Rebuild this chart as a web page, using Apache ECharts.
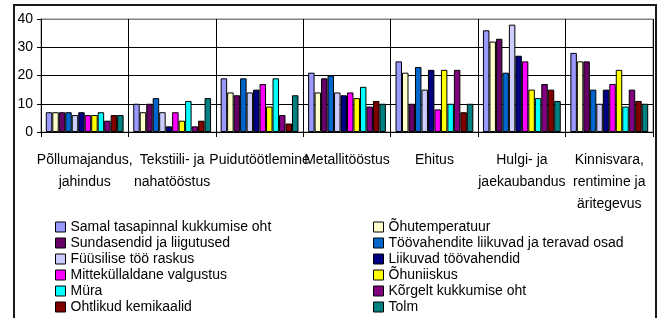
<!DOCTYPE html>
<html>
<head>
<meta charset="utf-8">
<script src="https://cdn.jsdelivr.net/npm/echarts@6/dist/echarts.min.js"></script>
<style>
html,body{margin:0;padding:0;background:#fff;}
#chart{width:661px;height:318px;}
</style>
</head>
<body>
<div id="chart"></div>
<script>
const categories = ["Põllumajandus,\njahindus", "Tekstiili- ja\nnahatööstus", "Puidutöötlemine", "Metallitööstus", "Ehitus", "Hulgi- ja\njaekaubandus", "Kinnisvara,\nrentimine ja\näritegevus"];
const yTicks = [0, 10, 20, 30, 40];

const seriesNames = [
  "Samal tasapinnal kukkumise oht",
  "Õhutemperatuur",
  "Sundasendid ja liigutused",
  "Töövahendite liikuvad ja teravad osad",
  "Füüsilise töö raskus",
  "Liikuvad töövahendid",
  "Mitteküllaldane valgustus",
  "Õhuniiskus",
  "Müra",
  "Kõrgelt kukkumise oht",
  "Ohtlikud kemikaalid",
  "Tolm"
];
const seriesColors = ["#9999FF","#FFFFCC","#660066","#0066CC","#CCCCFF","#000080","#FF00FF","#FFFF00","#00FFFF","#800080","#800000","#008080"];

const samal = [7, 10, 19, 21, 25, 36, 28];
const ohutemperatuur = [7, 7, 14, 14, 21, 32, 25];
const sundasendid = [7, 10, 13, 19, 10, 33, 25];
const toovahendite = [7, 12, 19, 20, 23, 21, 15];
const fuusilise = [6, 7, 14, 14, 15, 38, 10];
const liikuvad = [7, 2, 15, 13, 22, 27, 15];
const mittekullaldane = [6, 7, 17, 14, 8, 25, 17];
const ohuniiskus = [6, 4, 9, 12, 22, 15, 22];
const mura = [7, 11, 19, 16, 10, 12, 9];
const korgelt = [4, 2, 6, 9, 22, 17, 15];
const ohtlikud = [6, 4, 3, 11, 7, 15, 11];
const tolm = [6, 12, 13, 10, 10, 11, 10];

const seriesValues = [samal, ohutemperatuur, sundasendid, toovahendite, fuusilise, liikuvad, mittekullaldane, ohuniiskus, mura, korgelt, ohtlikud, tolm];

const FONT = "'Liberation Sans', Arial, sans-serif";

const chart = echarts.init(document.getElementById('chart'), null, {renderer: 'canvas'});

const legendText = {fontFamily: FONT, fontSize: 14, color: '#000', lineHeight: 16};
const leftNames = [0,2,4,6,8,10].map(i => seriesNames[i]);
const rightNames = [1,3,5,7,9,11].map(i => seriesNames[i]);

function legendCol(names, left) {
  return {
    data: names,
    orient: 'vertical',
    left: left, top: 219, height: 120,
    padding: 0,
    itemWidth: 10, itemHeight: 10, itemGap: 0,
    icon: 'rect',
    itemStyle: {borderColor: '#000', borderWidth: 1},
    textStyle: legendText,
    selectedMode: false
  };
}

chart.setOption({
  animation: false,
  backgroundColor: '#fff',
  graphic: [{
    type: 'rect',
    shape: {x: 14, y: 5, width: 642, height: 340},
    style: {fill: 'none', stroke: '#1a1a1a', lineWidth: 2},
    silent: true
  }],
  grid: {
    left: 41, right: 8, top: 19, bottom: 186,
    show: true, borderColor: '#808080', borderWidth: 1, backgroundColor: 'transparent'
  },
  legend: [legendCol(leftNames, 55), legendCol(rightNames, 373)],
  xAxis: {
    type: 'category',
    data: categories,
    boundaryGap: true,
    axisLine: {show: true, lineStyle: {color: '#000', width: 1}},
    axisTick: {show: true, length: 5, inside: false, alignWithLabel: false, lineStyle: {color: '#000'}},
    axisLabel: {
      interval: 0, hideOverlap: false,
      fontFamily: FONT, fontSize: 14, color: '#000', lineHeight: 22, margin: 17
    },
    splitLine: {show: true, interval: 0, lineStyle: {color: '#000', width: 1}}
  },
  yAxis: {
    type: 'value',
    min: 0, max: 40, interval: 10,
    axisLine: {show: true, lineStyle: {color: '#000', width: 1}},
    axisTick: {show: true, length: 4, lineStyle: {color: '#000'}},
    axisLabel: {
      fontFamily: FONT, fontSize: 14, color: '#000', margin: 8,
      formatter: v => yTicks.includes(v) ? String(v) : ''
    },
    splitLine: {show: true, lineStyle: {color: ['#000','#000','#000','#000','#808080'], width: 1}}
  },
  series: seriesNames.map((name, i) => ({
    name: name,
    type: 'bar',
    data: seriesValues[i],
    barGap: '0%',
    barCategoryGap: '11%',
    itemStyle: {color: seriesColors[i], borderColor: '#000', borderWidth: 1},
    emphasis: {disabled: true}
  }))
});
</script>
</body>
</html>
